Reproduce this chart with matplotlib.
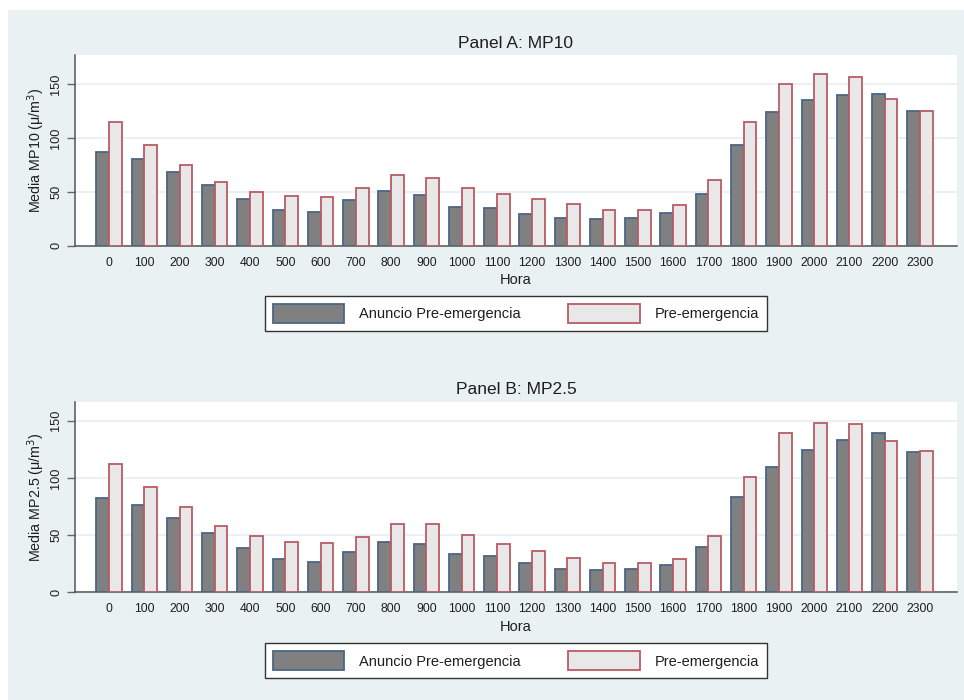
import matplotlib
matplotlib.use("Agg")
import matplotlib.pyplot as plt
import numpy as np
from matplotlib.patches import Rectangle

plt.rcParams['font.family'] = ['Liberation Sans', 'DejaVu Sans']

horas = [str(h * 100) for h in range(24)]

# Panel A: MP10
mp10_anuncio = [86.8, 80.9, 68.5, 56.1, 43.1, 32.9, 31.4, 42.2, 50.6, 47.1, 36.3, 34.8,
                29.5, 25.5, 24.8, 26.0, 30.2, 48.5, 93.4, 124.2, 135.4, 140.5, 141.0, 125.5]
mp10_pre = [115.0, 93.3, 75.0, 59.5, 50.2, 45.8, 45.0, 53.4, 65.7, 63.2, 53.6, 48.3,
            43.1, 39.0, 33.3, 33.0, 37.6, 60.8, 114.8, 150.3, 159.8, 157.2, 136.3, 125.5]

# Panel B: MP2.5
mp25_anuncio = [82.2, 76.6, 64.7, 52.1, 39.0, 28.8, 26.6, 35.0, 44.2, 42.0, 33.5, 31.7,
                25.3, 20.6, 19.1, 20.0, 23.9, 39.9, 83.3, 109.5, 124.7, 133.4, 139.0, 122.6]
mp25_pre = [112.4, 92.3, 74.3, 58.0, 49.1, 44.1, 42.8, 48.1, 59.4, 60.0, 49.8, 42.2,
            36.4, 29.7, 25.8, 25.2, 29.1, 49.1, 100.8, 139.2, 147.8, 146.9, 132.5, 123.2]

BG = '#E9F1F3'
GRID = '#E6EEF1'
DARK_FILL = '#808080'
DARK_EDGE = '#4A6684'
LIGHT_FILL = '#E8E8E8'
LIGHT_EDGE = '#B85C66'
TXT = '#1E1E1E'

W, H = 964, 700
fig = plt.figure(figsize=(W / 100, H / 100), dpi=100, facecolor='white')
fig.patches.append(Rectangle((8 / W, 0), (W - 8) / W, (H - 10) / H,
                             transform=fig.transFigure, facecolor=BG,
                             edgecolor='none', zorder=-10))


def panel(top_px, bottom_px, ymax, anuncio, pre, title, ylabel, leg_off):
    h = bottom_px - top_px
    ax = fig.add_axes([75 / W, 1 - bottom_px / H, (957 - 75) / W, h / H])
    ax.set_facecolor('white')
    x = np.arange(len(horas))
    bw = 0.36
    ax.bar(x - bw / 2, anuncio, bw, color=DARK_FILL, edgecolor=DARK_EDGE,
           linewidth=1.3, label='Anuncio Pre-emergencia', zorder=3)
    ax.bar(x + bw / 2, pre, bw, color=LIGHT_FILL, edgecolor=LIGHT_EDGE,
           linewidth=1.3, label='Pre-emergencia', zorder=3)
    ax.set_xlim(-0.964, 24.05)
    ax.set_ylim(0, ymax)
    ax.set_xticks(x)
    ax.set_xticklabels(horas)
    ax.set_yticks([0, 50, 100, 150])
    ax.tick_params(axis='x', length=0, pad=8, labelsize=8.8, labelcolor=TXT)
    ax.tick_params(axis='y', length=5.8, width=1, color='#666666', pad=3.5,
                   labelsize=9.2, labelcolor=TXT, labelrotation=90)
    for lbl in ax.get_yticklabels():
        lbl.set_verticalalignment('center')
    ax.yaxis.grid(True, color=GRID, linewidth=1.2)
    ax.set_axisbelow(True)
    for s in ['top', 'right']:
        ax.spines[s].set_visible(False)
    for s in ['left', 'bottom']:
        ax.spines[s].set_color('#555555')
        ax.spines[s].set_linewidth(1.1)
    ax.set_xlabel('Hora', fontsize=10.5, color=TXT, labelpad=3)
    ax.set_ylabel(ylabel, fontsize=10.3, color=TXT)
    ax.yaxis.set_label_coords(-0.032, 0.5)
    fig.text(516 / W, 1 - (top_px - 12) / H, title, ha='center', va='center',
             fontsize=12.5, color=TXT)
    leg = ax.legend(loc='center', bbox_to_anchor=((516 - 75) / 882, -leg_off / h),
                    ncol=2, frameon=True, fancybox=False, fontsize=10.5,
                    handlelength=4.9, handleheight=1.6, handletextpad=1.05,
                    columnspacing=3.25, borderpad=0.55, edgecolor='#333333',
                    framealpha=1, borderaxespad=0)
    leg.get_frame().set_linewidth(1.0)
    for t in leg.get_texts():
        t.set_color(TXT)
    return ax


panel(55, 245.7, 177.3, mp10_anuncio, mp10_pre, 'Panel A: MP10',
      'Media MP10 (\u03bc/m$^3$)', 68)
panel(402, 592.3, 166.3, mp25_anuncio, mp25_pre, 'Panel B: MP2.5',
      'Media MP2.5 (\u03bc/m$^3$)', 68.5)

fig.savefig('out.png', dpi=100, facecolor='white')
